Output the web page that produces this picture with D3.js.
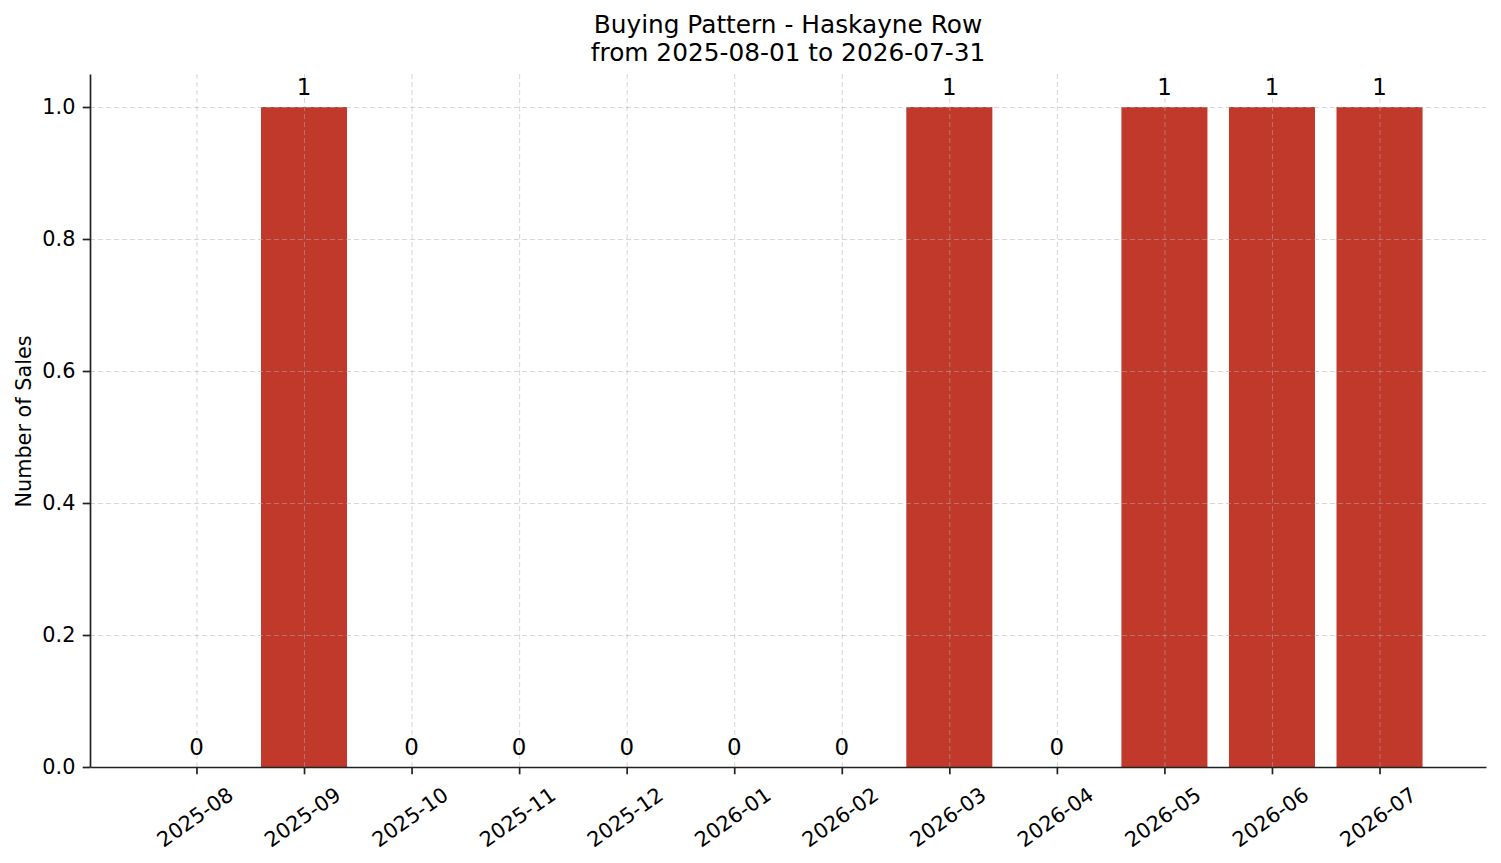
<!DOCTYPE html>
<html>
<head>
<meta charset="utf-8">
<script src="https://cdn.jsdelivr.net/npm/d3@7"></script>
<style>
  body { margin: 0; background: #fff; }
  svg { font-family: 'DejaVu Sans', sans-serif; }
  .grid line { stroke: #b0b0b0; stroke-opacity: 0.5; stroke-dasharray: 5,3; }
  .grid path { display: none; }
</style>
</head>
<body>
<div class="visualization"></div>
<script>
const months = ['2025-08', '2025-09', '2025-10', '2025-11', '2025-12', '2026-01',
  '2026-02', '2026-03', '2026-04', '2026-05', '2026-06', '2026-07']
const sales = [0, 1, 0, 0, 0, 0, 0, 1, 0, 1, 1, 1]
const yTicks = [0, 0.2, 0.4, 0.6, 0.8, 1.0]
const titleLines = ['Buying Pattern - Haskayne Row', 'from 2025-08-01 to 2026-07-31']

const WIDTH = 1501
const HEIGHT = 863
const margin = {top: 74, right: 15, bottom: 96, left: 90}
const w = WIDTH - margin.left - margin.right
const h = HEIGHT - margin.top - margin.bottom

// matplotlib-style limits: bars at 0..n-1, width 0.8, 5% margins
const n = months.length
const span = (n - 1) + 0.8
const pad = span * 0.05
const x = d3.scaleLinear().domain([-0.4 - pad, n - 1 + 0.4 + pad]).range([0, w])
const y = d3.scaleLinear().domain([0, 1.05]).range([h, 0])
const barW = x(0.8) - x(0)

const svg = d3.select('.visualization')
  .append('svg')
  .attr('width', WIDTH)
  .attr('height', HEIGHT)

const g = svg.append('g')
  .attr('transform', 'translate(' + margin.left + ',' + margin.top + ')')

// bars
g.selectAll('rect.bar')
  .data(sales)
  .enter()
  .append('rect')
  .attr('class', 'bar')
  .attr('x', (d, i) => x(i) - barW / 2)
  .attr('y', d => y(d))
  .attr('width', barW)
  .attr('height', d => h - y(d))
  .attr('fill', '#c0392b')

// gridlines (drawn above bars, like the reference)
g.append('g')
  .attr('class', 'grid')
  .attr('transform', 'translate(0,' + h + ')')
  .call(d3.axisBottom(x).tickValues(d3.range(n)).tickSize(-h).tickFormat(''))

g.append('g')
  .attr('class', 'grid')
  .call(d3.axisLeft(y).tickValues(yTicks).tickSize(-w).tickFormat(''))

// value labels
g.selectAll('text.val')
  .data(sales)
  .enter()
  .append('text')
  .attr('class', 'val')
  .attr('x', (d, i) => x(i))
  .attr('y', d => y(d) - 12.5)
  .attr('text-anchor', 'middle')
  .style('font-size', '22.9px')
  .attr('fill', '#000')
  .text(d => d)

// y axis
const yAxis = g.append('g')
  .call(d3.axisLeft(y).tickValues(yTicks).tickSize(7.3).tickSizeOuter(0)
    .tickPadding(7.3).tickFormat(d3.format('.1f')))
yAxis.select('.domain').attr('stroke', '#222').attr('stroke-width', 1.7)
yAxis.selectAll('.tick line').attr('stroke', '#222').attr('stroke-width', 1.7)
yAxis.selectAll('.tick text').style('font-size', '20.8px').attr('fill', '#000')
  .style('font-family', 'DejaVu Sans')

// x axis
const xAxis = g.append('g')
  .attr('transform', 'translate(0,' + h + ')')
  .call(d3.axisBottom(x).tickValues(d3.range(n)).tickSize(7.3).tickSizeOuter(0)
    .tickFormat(i => months[i]))
xAxis.select('.domain').attr('stroke', '#222').attr('stroke-width', 1.7)
xAxis.selectAll('.tick line').attr('stroke', '#222').attr('stroke-width', 1.7)
xAxis.selectAll('.tick text')
  .style('font-size', '20.8px')
  .style('font-family', 'DejaVu Sans')
  .attr('fill', '#000')
  .attr('text-anchor', 'middle')
  .attr('dy', '0.35em')
  .attr('y', 0)
  .attr('transform', 'translate(-2,50) rotate(-35)')

// y label
svg.append('text')
  .attr('transform', 'translate(31,' + (margin.top + h / 2 + 1) + ') rotate(-90)')
  .attr('text-anchor', 'middle')
  .style('font-size', '20.8px')
  .attr('fill', '#000')
  .text('Number of Sales')

// title
svg.append('g')
  .selectAll('text')
  .data(titleLines)
  .enter()
  .append('text')
  .attr('x', margin.left + w / 2)
  .attr('y', (d, i) => 33 + i * 28.4)
  .attr('text-anchor', 'middle')
  .style('font-size', '24.8px')
  .attr('fill', '#000')
  .text(d => d)
</script>
</body>
</html>
